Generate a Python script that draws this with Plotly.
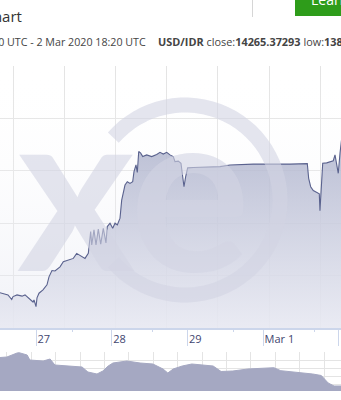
import math
import plotly.graph_objects as go

# ---------------- data ----------------
times = [
    "2020-02-26 12:35", "2020-02-26 14:10", "2020-02-26 15:07", "2020-02-26 16:18",
    "2020-02-26 16:43", "2020-02-26 17:59", "2020-02-26 19:34", "2020-02-26 20:31",
    "2020-02-26 21:28", "2020-02-26 22:25", "2020-02-26 23:03", "2020-02-26 23:22",
    "2020-02-27 00:00", "2020-02-27 00:19", "2020-02-27 00:57", "2020-02-27 02:13",
    "2020-02-27 03:29", "2020-02-27 04:07", "2020-02-27 05:04", "2020-02-27 06:01",
    "2020-02-27 06:58", "2020-02-27 07:37", "2020-02-27 08:39", "2020-02-27 10:14",
    "2020-02-27 11:50", "2020-02-27 12:54", "2020-02-27 13:57", "2020-02-27 15:32",
    "2020-02-27 16:35", "2020-02-27 17:20", "2020-02-27 17:40", "2020-02-27 18:23",
    "2020-02-27 19:01", "2020-02-27 19:45", "2020-02-27 20:31", "2020-02-27 21:20",
    "2020-02-27 22:11", "2020-02-27 22:36", "2020-02-27 23:28",
    "2020-02-28 00:19", "2020-02-28 01:03", "2020-02-28 01:47", "2020-02-28 02:38",
    "2020-02-28 03:10", "2020-02-28 04:13", "2020-02-28 04:57", "2020-02-28 05:48",
    "2020-02-28 06:39", "2020-02-28 07:04", "2020-02-28 07:42", "2020-02-28 08:07",
    "2020-02-28 08:34", "2020-02-28 09:12", "2020-02-28 09:50", "2020-02-28 11:06",
    "2020-02-28 12:41", "2020-02-28 14:16", "2020-02-28 15:19", "2020-02-28 16:21",
    "2020-02-28 17:26", "2020-02-28 18:29", "2020-02-28 19:32", "2020-02-28 20:04",
    "2020-02-28 21:07", "2020-02-28 21:58", "2020-02-28 22:30", "2020-02-28 22:55",
    "2020-02-28 23:27",
    "2020-02-29 00:05", "2020-02-29 01:52", "2020-02-29 10:20", "2020-02-29 13:30",
    "2020-02-29 20:53",
    "2020-03-01 08:32", "2020-03-01 14:01", "2020-03-01 14:27", "2020-03-01 15:05",
    "2020-03-01 15:55", "2020-03-01 17:11", "2020-03-01 17:49", "2020-03-01 18:02",
    "2020-03-01 18:21", "2020-03-01 18:54", "2020-03-01 20:10", "2020-03-01 21:13",
    "2020-03-01 22:15", "2020-03-01 22:48", "2020-03-01 23:20", "2020-03-01 23:50",
    "2020-03-02 00:23", "2020-03-02 00:51",
]
rates = [
    13909, 13906, 13904, 13893, 13900, 13904, 13901, 13904, 13897, 13892, 13887, 13892,
    13876, 13897, 13908, 13916, 13928, 13947, 13962, 13961, 13968, 13971, 13983, 13987,
    13991, 14003, 13999, 13991, 14003, 14055, 14023, 14059, 14023, 14061, 14025, 14063,
    14028, 14067, 14075,
    14063, 14075, 14071, 14087, 14130, 14166, 14174, 14170, 14174, 14198, 14214, 14196,
    14246, 14242, 14234, 14238, 14234, 14239, 14244, 14240, 14244, 14238, 14234, 14222,
    14223, 14218, 14182, 14162, 14186,
    14207, 14208, 14210, 14214, 14216,
    14216, 14217, 14182, 14162, 14153, 14148, 14145, 14105, 14142, 14218, 14219, 14222,
    14224, 14238, 14218, 14194,
    14242, 14273,
]

nav_dates = [
    "2018-06-01", "2018-06-14", "2018-07-03", "2018-07-07", "2018-07-22", "2018-07-27",
    "2018-08-21", "2018-09-03", "2018-09-12", "2018-10-05", "2018-11-02", "2018-11-13",
    "2018-11-30", "2018-12-11", "2018-12-21", "2018-12-30", "2019-01-25", "2019-02-19",
    "2019-03-15", "2019-04-03", "2019-04-12", "2019-04-22", "2019-05-09", "2019-05-27",
    "2019-07-06", "2019-07-21", "2019-08-12", "2019-09-09", "2019-10-11", "2019-10-28",
    "2019-11-10", "2019-12-03", "2019-12-24", "2020-01-09", "2020-01-25", "2020-02-07",
    "2020-02-18", "2020-03-02",
]
nav_rates = [
    14945, 14980, 15260, 15281, 15120, 14770, 14700, 14840, 14420, 14350, 14280, 13930,
    13790, 14000, 14350, 14560, 14700, 14560, 14490, 14140, 13860, 14140, 14350, 14490,
    14350, 13965, 14000, 14140, 14210, 14231, 14021, 13930, 13881, 13790, 13685, 13160,
    12950, 12950,
]

tick_vals = ["2020-02-27", "2020-02-28", "2020-02-29", "2020-03-01", "2020-03-02"]
tick_text = ["27", "28", "29", "Mar 1", "Mar 2"]

X_RANGE = ["2020-02-26 12:35", "2020-03-02 00:42"]
Y_RANGE = [13825, 14450]
NAV_X_RANGE = ["2018-06-01", "2020-03-02"]
NAV_Y_RANGE = [12600, 15330]

HOUR = 3600000
DAY = 24 * HOUR

# ---------------- styles ----------------
GRID = "#e4e4e4"
AXIS = "#ccd6eb"
LINE = "rgb(90,98,142)"
FONT = "Open Sans"
WM = "rgba(210,212,227,0.6)"

fig = go.Figure()

# soft background gradient of the plot area
fig.add_trace(go.Scatter(
    x=X_RANGE, y=[Y_RANGE[1], Y_RANGE[1]], mode="lines", line=dict(width=0),
    fill="tozeroy",
    fillgradient=dict(type="vertical", start=Y_RANGE[0], stop=Y_RANGE[1],
                      colorscale=[[0, "rgba(228,230,241,0.55)"], [1, "rgba(255,255,255,0)"]]),
    hoverinfo="skip", showlegend=False))

# main series
fig.add_trace(go.Scatter(
    x=times, y=rates, mode="lines", line=dict(color=LINE, width=1.1),
    fill="tozeroy",
    fillgradient=dict(type="vertical", start=Y_RANGE[0], stop=14280,
                      colorscale=[[0, "rgba(232,233,242,0.8)"], [1, "rgba(172,177,203,0.82)"]]),
    hoverinfo="skip", showlegend=False))

# helper traces for overlay grid / minor tick axes
fig.add_trace(go.Scatter(x=[], y=[], xaxis="x3", yaxis="y", showlegend=False))
fig.add_trace(go.Scatter(x=[], y=[], xaxis="x4", yaxis="y", showlegend=False))

# navigator
fig.add_trace(go.Scatter(
    x=nav_dates, y=nav_rates, xaxis="x2", yaxis="y2", mode="lines",
    line=dict(color="rgb(165,168,194)", width=1), fill="tozeroy",
    fillcolor="rgb(165,168,194)", hoverinfo="skip", showlegend=False))

# ---------------- watermark ring ----------------
pts = []
r = 95
for i in range(61):
    a = math.radians(139 - i * (278 / 60))
    pts.append((r * math.cos(a), r * math.sin(a)))
ring = "M " + " L ".join(f"{px:.1f},{py:.1f}" for px, py in pts)

shapes = [
    dict(type="path", path=ring, xref="paper", yref="paper", xsizemode="pixel", ysizemode="pixel",
         xanchor=185 / 341, yanchor=0.5, line=dict(color=WM, width=15), layer="above"),
    # green button
    dict(type="rect", xref="paper", yref="paper", x0=295 / 341, x1=1.05, y0=0.96, y1=1.05,
         fillcolor="rgb(46,156,26)", line=dict(width=0), layer="above"),
    # separator
    dict(type="line", xref="paper", yref="paper", x0=252.5 / 341, x1=252.5 / 341, y0=0.9575, y1=1.0,
         line=dict(color="#d6d6d6", width=1)),
]

annotations = [
    dict(text="xe", xref="paper", yref="paper", x=133 / 341, y=0.542, xanchor="center",
         yanchor="middle", showarrow=False,
         font=dict(family="Lato", size=226, weight="bold", color=WM)),
    dict(text="USD to IDR Chart", xref="paper", yref="paper", x=24 / 341, y=0.9595,
         xanchor="right", yanchor="middle", showarrow=False,
         font=dict(family=FONT, size=15, color="#333")),
    dict(text="Learn more", xref="paper", yref="paper", x=309 / 341, y=1.002,
         xanchor="left", yanchor="middle", showarrow=False,
         font=dict(family=FONT, size=14, color="white")),
    dict(text="26 Feb 2020 18:20 UTC - 2 Mar 2020 18:20 UTC", xref="paper", yref="paper",
         x=148 / 341, y=0.895, xanchor="right", yanchor="middle", showarrow=False,
         font=dict(family=FONT, size=10.7, color="#444")),
    dict(text="<b>USD/IDR</b> close:<b>14265.37293</b> low:<b>13871.34629</b>",
         xref="paper", yref="paper", x=156 / 341, y=0.895, xanchor="left", yanchor="middle",
         showarrow=False, font=dict(family=FONT, size=10.9, color="#444")),
]

fig.update_layout(
    width=341, height=400, margin=dict(l=0, r=0, t=0, b=0),
    paper_bgcolor="white", plot_bgcolor="white", showlegend=False,
    font=dict(family=FONT),
    shapes=shapes, annotations=annotations,
    xaxis=dict(domain=[0, 1], anchor="y", type="date", range=X_RANGE, showgrid=False,
               showline=True, linecolor=AXIS, linewidth=2, zeroline=False,
               ticks="outside", ticklen=16, tickcolor=AXIS, tickwidth=1,
               tickvals=tick_vals, ticktext=tick_text, ticklabelposition="outside right",
               ticklabelstandoff=0,
               tickfont=dict(family=FONT, size=11, color="#3f466f")),
    yaxis=dict(domain=[0.18, 0.835], anchor="x", range=Y_RANGE, tick0=Y_RANGE[0], dtick=125,
               showgrid=True, gridcolor=GRID, gridwidth=1, showticklabels=False, ticks="",
               zeroline=False, showline=False),
    xaxis3=dict(overlaying="x", anchor="y", type="date", range=X_RANGE,
                tick0="2020-02-26 16:42:30", dtick=int(16.233 * HOUR), showgrid=True,
                gridcolor=GRID, showticklabels=False, ticks="", showline=False, zeroline=False),
    xaxis4=dict(overlaying="x", anchor="y", side="bottom", type="date", range=X_RANGE,
                tick0="2020-02-27 11:25", dtick=int(25.59 * HOUR), showgrid=False,
                showticklabels=False, ticks="outside", ticklen=3, tickcolor=AXIS,
                showline=False, zeroline=False),
    xaxis2=dict(domain=[0, 1], anchor="y2", type="date", range=NAV_X_RANGE,
                tick0="2018-06-14", dtick=int(45.8 * DAY), showgrid=True, gridcolor=GRID,
                showticklabels=False, ticks="", showline=False, zeroline=False),
    yaxis2=dict(domain=[0.0225, 0.12], anchor="x2", range=NAV_Y_RANGE, tick0=13090, dtick=560,
                showgrid=True, gridcolor=GRID, showticklabels=False, ticks="",
                showline=False, zeroline=False),
)

fig.write_html("out.html")
